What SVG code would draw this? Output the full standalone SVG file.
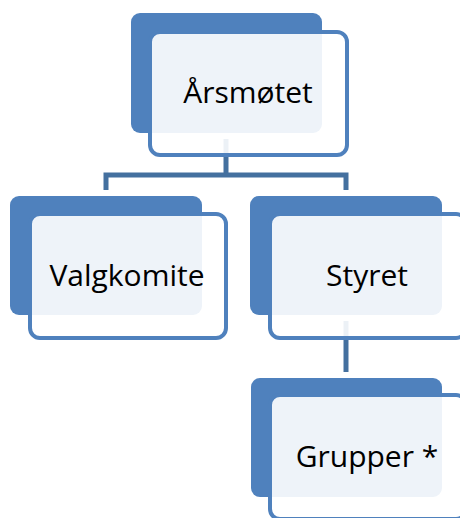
<svg xmlns="http://www.w3.org/2000/svg" width="460" height="518" viewBox="0 0 460 518">
<style>
.back{fill:#4f81bd}
.front{fill:#ffffff;fill-opacity:0.9;stroke:#4f81bd;stroke-width:4}
.conn{fill:none;stroke:#44709f;stroke-width:5}
.lbl{font-family:"Open Sans","Liberation Sans",sans-serif;font-size:30px;fill:#000000;text-anchor:middle}
</style>
<rect width="460" height="518" fill="#ffffff"/>
<g id="connectors">
<path class="conn" d="M226,139 V175 M106,190 V175 H346 V190"/>
<path class="conn" d="M346,321 V372"/>
</g>
<g id="node-arsmotet">
<rect class="back" x="131" y="13" width="191" height="120" rx="9"/>
<rect class="front" x="150" y="32" width="197" height="123" rx="10"/>
<text class="lbl" x="248" y="103">Årsmøtet</text>
</g>
<g id="node-valgkomite">
<rect class="back" x="10" y="196" width="192" height="119" rx="9"/>
<rect class="front" x="30" y="214" width="196" height="124" rx="10"/>
<text class="lbl" x="127" y="286">Valgkomite</text>
</g>
<g id="node-styret">
<rect class="back" x="250" y="196" width="192" height="119" rx="9"/>
<rect class="front" x="270" y="214" width="196" height="124" rx="10"/>
<text class="lbl" x="367" y="286">Styret</text>
</g>
<g id="node-grupper">
<rect class="back" x="251" y="378" width="191" height="119" rx="9"/>
<rect class="front" x="270" y="395" width="196" height="124" rx="10"/>
<text class="lbl" x="367" y="467">Grupper *</text>
</g>
</svg>
